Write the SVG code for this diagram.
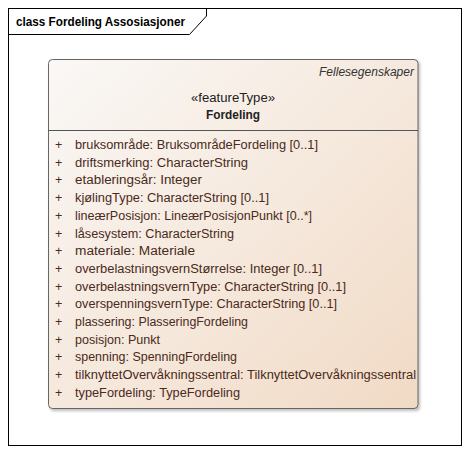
<svg xmlns="http://www.w3.org/2000/svg" width="469" height="453" viewBox="0 0 469 453">
<defs>
<linearGradient id="fill" x1="0" y1="0" x2="1" y2="1">
<stop offset="0" stop-color="#faf8f6"/>
<stop offset="1" stop-color="#f1dac5"/>
</linearGradient>
<filter id="sh" x="-5%" y="-5%" width="115%" height="115%">
<feGaussianBlur stdDeviation="1.5"/>
</filter>
<style>
text{font-family:"Liberation Sans",Arial,sans-serif;}
.attr{font-size:12.5px;fill:#4a2a1a;}
.plus{font-size:12.5px;fill:#4a2a1a;}
.title{font-size:13px;font-weight:bold;fill:#000;}
.stereo{font-size:12.5px;fill:#222;}
.name{font-size:12.5px;font-weight:bold;fill:#222;}
.tag{font-size:12.5px;font-style:italic;fill:#333;}
</style>
</defs>
<rect x="0" y="0" width="469" height="453" fill="#fff"/>
<g id="frame">
<rect x="8.5" y="8.5" width="453" height="437" fill="none" stroke="#000" stroke-width="1"/>
<polyline points="8.5,34.5 189.5,34.5 206.5,16 206.5,8.5" fill="none" stroke="#000" stroke-width="1"/>
<text class="title" x="16" y="26" textLength="169" lengthAdjust="spacingAndGlyphs">class Fordeling Assosiasjoner</text>
</g>
<g id="Fordeling">
<rect x="50" y="61" width="370" height="350" rx="4" fill="#888" opacity="0.55" filter="url(#sh)"/>
<rect x="48.5" y="59.5" width="369.5" height="349" rx="4" fill="url(#fill)" stroke="#666" stroke-width="1"/>
<line x1="48.5" y1="130.5" x2="418" y2="130.5" stroke="#555" stroke-width="1"/>
<text class="tag" x="414" y="76" text-anchor="end" textLength="95" lengthAdjust="spacingAndGlyphs">Fellesegenskaper</text>
<text class="stereo" x="233" y="102" text-anchor="middle" textLength="84" lengthAdjust="spacingAndGlyphs">«featureType»</text>
<text class="name" x="233" y="118.5" text-anchor="middle" textLength="54" lengthAdjust="spacingAndGlyphs">Fordeling</text>
<g class="plus">
<text x="55" y="149">+</text>
<text x="55" y="166.7">+</text>
<text x="55" y="184.4">+</text>
<text x="55" y="202.1">+</text>
<text x="55" y="219.8">+</text>
<text x="55" y="237.5">+</text>
<text x="55" y="255.2">+</text>
<text x="55" y="272.9">+</text>
<text x="55" y="290.6">+</text>
<text x="55" y="308.3">+</text>
<text x="55" y="326">+</text>
<text x="55" y="343.7">+</text>
<text x="55" y="361.4">+</text>
<text x="55" y="379.1">+</text>
<text x="55" y="396.8">+</text>
</g>
<g class="attr">
<text x="75" y="149" textLength="243" lengthAdjust="spacingAndGlyphs">bruksområde: BruksområdeFordeling [0..1]</text>
<text x="75" y="166.7" textLength="173" lengthAdjust="spacingAndGlyphs">driftsmerking: CharacterString</text>
<text x="75" y="184.4" textLength="127" lengthAdjust="spacingAndGlyphs">etableringsår: Integer</text>
<text x="75" y="202.1" textLength="194" lengthAdjust="spacingAndGlyphs">kjølingType: CharacterString [0..1]</text>
<text x="75" y="219.8" textLength="237" lengthAdjust="spacingAndGlyphs">lineærPosisjon: LineærPosisjonPunkt [0..*]</text>
<text x="75" y="237.5" textLength="159" lengthAdjust="spacingAndGlyphs">låsesystem: CharacterString</text>
<text x="75" y="255.2" textLength="120" lengthAdjust="spacingAndGlyphs">materiale: Materiale</text>
<text x="75" y="272.9" textLength="247" lengthAdjust="spacingAndGlyphs">overbelastningsvernStørrelse: Integer [0..1]</text>
<text x="75" y="290.6" textLength="271" lengthAdjust="spacingAndGlyphs">overbelastningsvernType: CharacterString [0..1]</text>
<text x="75" y="308.3" textLength="262" lengthAdjust="spacingAndGlyphs">overspenningsvernType: CharacterString [0..1]</text>
<text x="75" y="326" textLength="173" lengthAdjust="spacingAndGlyphs">plassering: PlasseringFordeling</text>
<text x="75" y="343.7" textLength="85" lengthAdjust="spacingAndGlyphs">posisjon: Punkt</text>
<text x="75" y="361.4" textLength="162" lengthAdjust="spacingAndGlyphs">spenning: SpenningFordeling</text>
<text x="75" y="379.1" textLength="341" lengthAdjust="spacingAndGlyphs">tilknyttetOvervåkningssentral: TilknyttetOvervåkningssentral</text>
<text x="75" y="396.8" textLength="165" lengthAdjust="spacingAndGlyphs">typeFordeling: TypeFordeling</text>
</g>
</g>
<g id="connectors"/>
</svg>
